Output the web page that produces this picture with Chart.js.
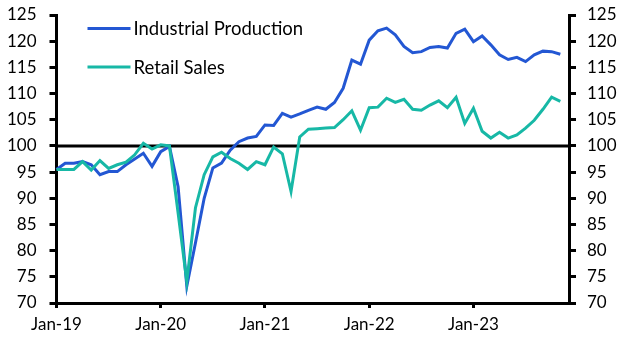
<!DOCTYPE html>
<html><head><meta charset="utf-8">
<script src="https://cdn.jsdelivr.net/npm/chart.js@4"></script>
<style>html,body{margin:0;padding:0;background:#fff}#wrap{width:631px;height:341px}</style>
</head><body><div id="wrap"><canvas id="c" width="631" height="341"></canvas></div>
<script>
const months = [
 "Jan-19","Feb-19","Mar-19","Apr-19","May-19","Jun-19","Jul-19","Aug-19","Sep-19","Oct-19","Nov-19","Dec-19",
 "Jan-20","Feb-20","Mar-20","Apr-20","May-20","Jun-20","Jul-20","Aug-20","Sep-20","Oct-20","Nov-20","Dec-20",
 "Jan-21","Feb-21","Mar-21","Apr-21","May-21","Jun-21","Jul-21","Aug-21","Sep-21","Oct-21","Nov-21","Dec-21",
 "Jan-22","Feb-22","Mar-22","Apr-22","May-22","Jun-22","Jul-22","Aug-22","Sep-22","Oct-22","Nov-22","Dec-22",
 "Jan-23","Feb-23","Mar-23","Apr-23","May-23","Jun-23","Jul-23","Aug-23","Sep-23","Oct-23","Nov-23","Dec-23"
];
const industrialProduction = [
 95.5,96.7,96.7,97.0,96.4,94.5,95.1,95.1,96.4,97.5,98.6,96.1,
 98.9,99.9,92.2,73.2,81.5,90.0,95.8,96.7,99.2,100.8,101.5,101.8,
 104.0,103.9,106.2,105.5,106.1,106.8,107.4,107.0,108.3,111.0,116.4,115.6,
 120.2,122.0,122.5,121.2,119.0,117.8,118.0,118.8,119.0,118.7,121.5,122.3,
 119.9,121.0,119.3,117.4,116.5,116.9,116.1,117.4,118.1,118.0,117.5
];
const retailSales = [
 95.5,95.5,95.5,97.0,95.4,97.2,95.7,96.4,96.9,98.3,100.5,99.4,
 100.2,100.0,87.2,74.1,88.2,94.5,97.9,98.8,97.6,96.7,95.5,97.0,
 96.4,99.8,98.5,91.3,101.7,103.2,103.3,103.4,103.5,105.0,106.7,103.0,
 107.3,107.4,109.1,108.3,108.9,107.0,106.8,107.8,108.6,107.3,109.3,104.3,
 107.2,102.8,101.5,102.6,101.5,102.1,103.4,104.9,107.0,109.3,108.5
];
const seriesNames = ["Industrial Production","Retail Sales"];
const seriesColors = ["#2357d3","#17b8a6"];
const yMin = 70, yMax = 125, yStep = 5, baseline = 100;

const FONT = {family:"Lato, 'Open Sans', sans-serif", size:17};
const LEGEND_FONT_SIZE = 18.5;

const baselinePlugin = {
  id:'baseline',
  beforeDatasetsDraw(chart){
    const {ctx, chartArea, scales} = chart;
    const y = scales.y.getPixelForValue(baseline);
    ctx.save();
    ctx.strokeStyle = '#000'; ctx.lineWidth = 3;
    ctx.beginPath(); ctx.moveTo(chartArea.left, y); ctx.lineTo(chartArea.right, y); ctx.stroke();
    ctx.restore();
  }
};
const legendPlugin = {
  id:'insideLegend',
  afterDatasetsDraw(chart){
    const {ctx, chartArea} = chart;
    ctx.save();
    ctx.font = `${LEGEND_FONT_SIZE}px ${FONT.family}`;
    ctx.textBaseline = 'middle'; ctx.textAlign = 'left'; ctx.fillStyle = '#000';
    chart.data.datasets.forEach((ds, i) => {
      const x0 = chartArea.left + 31, y = chartArea.top + 13.5 + i * 38.5;
      ctx.strokeStyle = ds.borderColor; ctx.lineWidth = 3;
      ctx.beginPath(); ctx.moveTo(x0, y); ctx.lineTo(x0 + 43, y); ctx.stroke();
      ctx.fillText(ds.label, x0 + 46, y + 1);
    });
    ctx.restore();
  }
};

const yAxis = (pos, width, pad) => ({
  position: pos, min: yMin, max: yMax,
  ticks: {stepSize: yStep, padding: pad, color:'#000', font: FONT},
  grid: {drawOnChartArea:false, drawTicks:true, tickLength:7, tickWidth:3, lineWidth:3, color:'#000'},
  border: {display:true, color:'#000', width:3},
  afterFit(s){ s.width = width; s.paddingTop = 0; s.paddingBottom = 0; }
});

new Chart(document.getElementById('c'), {
  type:'line',
  data:{
    labels: months,
    datasets:[
      {label: seriesNames[0], data: industrialProduction, borderColor: seriesColors[0], backgroundColor: seriesColors[0], order:1},
      {label: seriesNames[1], data: retailSales, borderColor: seriesColors[1], backgroundColor: seriesColors[1], order:0}
    ]
  },
  options:{
    responsive:false, devicePixelRatio:1, animation:false,
    layout:{padding:{top:15, left:0, right:0, bottom:0}},
    elements:{line:{borderWidth:3, tension:0, fill:false}, point:{radius:0, hoverRadius:0}},
    plugins:{legend:{display:false}, tooltip:{enabled:false}},
    scales:{
      x:{
        type:'category', offset:false,
        ticks:{autoSkip:false, maxRotation:0, minRotation:0, padding:6, color:'#000', font: FONT},
        grid:{drawOnChartArea:false, drawTicks:true, tickLength:5, tickWidth:3, lineWidth:3, color:'#000'},
        border:{display:true, color:'#000', width:3},
        afterBuildTicks(s){ s.ticks = s.ticks.filter(t => t.value % 12 === 0); },
        afterFit(s){ s.height = 38; s.paddingLeft = 0; s.paddingRight = 0; }
      },
      y: yAxis('left', 56.5, 13),
      y2: yAxis('right', 62, 11)
    }
  },
  plugins:[baselinePlugin, legendPlugin]
});
</script></body></html>
